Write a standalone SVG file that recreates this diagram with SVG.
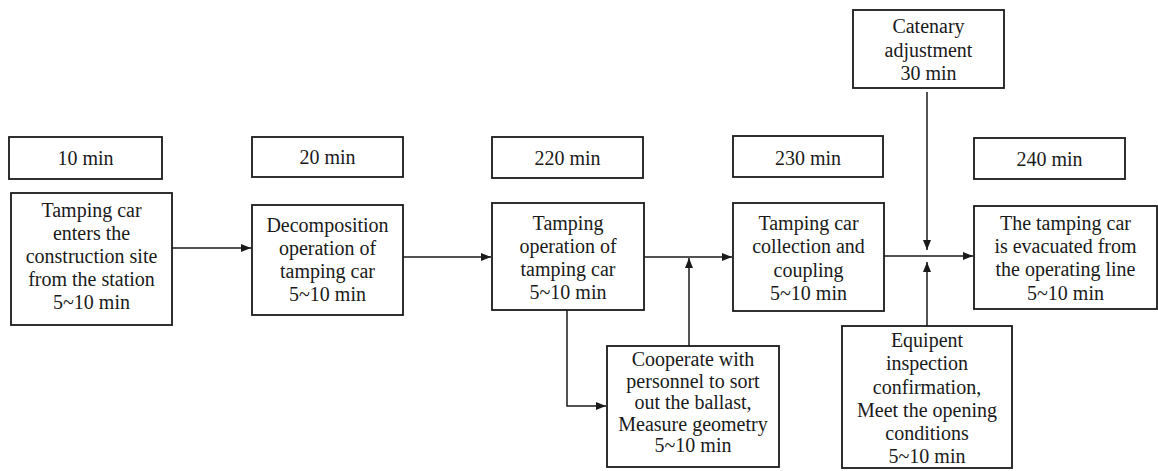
<svg xmlns="http://www.w3.org/2000/svg" width="1158" height="471" viewBox="0 0 1158 471">
<defs>
<style>
.box{fill:#fff;stroke:#1a1a1a;stroke-width:1.8}
.t{font-size:20px;fill:#1a1a1a;text-anchor:middle}
.ln{fill:none;stroke:#1a1a1a;stroke-width:1.5}
</style>
<marker id="ah" viewBox="0 0 10 8" refX="10" refY="4" markerWidth="10" markerHeight="8" markerUnits="userSpaceOnUse" orient="auto">
<path d="M0,0 L10,4 L0,8 Z" fill="#1a1a1a"/>
</marker>
</defs>
<rect width="1158" height="471" fill="#fff"/>
<g font-family="Liberation Serif, DejaVu Serif, Times New Roman, serif">
<g id="time10"><rect class="box" x="9" y="137" width="153" height="42"/><text class="t" x="85.5" y="165">10 min</text></g>
<g id="time20"><rect class="box" x="252" y="137" width="151" height="40"/><text class="t" x="327.5" y="164">20 min</text></g>
<g id="time220"><rect class="box" x="492" y="137" width="151" height="41"/><text class="t" x="567.5" y="165">220 min</text></g>
<g id="time230"><rect class="box" x="733" y="136" width="150" height="41"/><text class="t" x="808" y="165">230 min</text></g>
<g id="time240"><rect class="box" x="974" y="138" width="151" height="41"/><text class="t" x="1049.5" y="166">240 min</text></g>
<g id="n1"><rect class="box" x="11" y="193" width="161" height="132"/>
<text class="t" x="91.5" y="217">Tamping car</text><text class="t" x="91.5" y="240">enters the</text><text class="t" x="91.5" y="263">construction site</text><text class="t" x="91.5" y="286">from the station</text><text class="t" x="91.5" y="309">5~10 min</text></g>
<g id="n2"><rect class="box" x="252" y="205" width="151" height="110"/>
<text class="t" x="327.5" y="232">Decomposition</text><text class="t" x="327.5" y="255">operation of</text><text class="t" x="327.5" y="278">tamping car</text><text class="t" x="327.5" y="301">5~10 min</text></g>
<g id="n3"><rect class="box" x="492" y="203" width="152" height="107"/>
<text class="t" x="568" y="230">Tamping</text><text class="t" x="568" y="253">operation of</text><text class="t" x="568" y="276">tamping car</text><text class="t" x="568" y="299">5~10 min</text></g>
<g id="n4"><rect class="box" x="733" y="203" width="151" height="108"/>
<text class="t" x="808.5" y="230">Tamping car</text><text class="t" x="808.5" y="253">collection and</text><text class="t" x="808.5" y="277">coupling</text><text class="t" x="808.5" y="300">5~10 min</text></g>
<g id="n5"><rect class="box" x="974" y="206" width="183" height="103"/>
<text class="t" x="1065.5" y="230">The tamping car</text><text class="t" x="1065.5" y="253">is evacuated from</text><text class="t" x="1065.5" y="276">the operating line</text><text class="t" x="1065.5" y="300">5~10 min</text></g>
<g id="catenary"><rect class="box" x="853" y="10" width="151" height="78"/>
<text class="t" x="928.5" y="33">Catenary</text><text class="t" x="928.5" y="57">adjustment</text><text class="t" x="928.5" y="80">30 min</text></g>
<g id="cooperate"><rect class="box" x="607" y="346" width="172" height="121"/>
<text class="t" x="693" y="366">Cooperate with</text><text class="t" x="693" y="388">personnel to sort</text><text class="t" x="693" y="409">out the ballast,</text><text class="t" x="693" y="431">Measure geometry</text><text class="t" x="693" y="452">5~10 min</text></g>
<g id="equipment"><rect class="box" x="842" y="326" width="170" height="142"/>
<text class="t" x="927" y="347">Equipent</text><text class="t" x="927" y="370">inspection</text><text class="t" x="927" y="394">confirmation,</text><text class="t" x="927" y="417">Meet the opening</text><text class="t" x="927" y="440">conditions</text><text class="t" x="927" y="463">5~10 min</text></g>
</g>
<g id="connectors">
<line class="ln" x1="172" y1="248" x2="251" y2="248" marker-end="url(#ah)"/>
<line class="ln" x1="403" y1="257" x2="491" y2="257" marker-end="url(#ah)"/>
<line class="ln" x1="644" y1="257" x2="732" y2="257" marker-end="url(#ah)"/>
<line class="ln" x1="689" y1="346" x2="689" y2="258" marker-end="url(#ah)"/>
<polyline class="ln" points="567,310 567,406 606,406" marker-end="url(#ah)"/>
<line class="ln" x1="884" y1="256" x2="973" y2="256" marker-end="url(#ah)"/>
<line class="ln" x1="927" y1="92" x2="927" y2="250" marker-end="url(#ah)"/>
<line class="ln" x1="927" y1="326" x2="927" y2="262" marker-end="url(#ah)"/>
</g>
</svg>
